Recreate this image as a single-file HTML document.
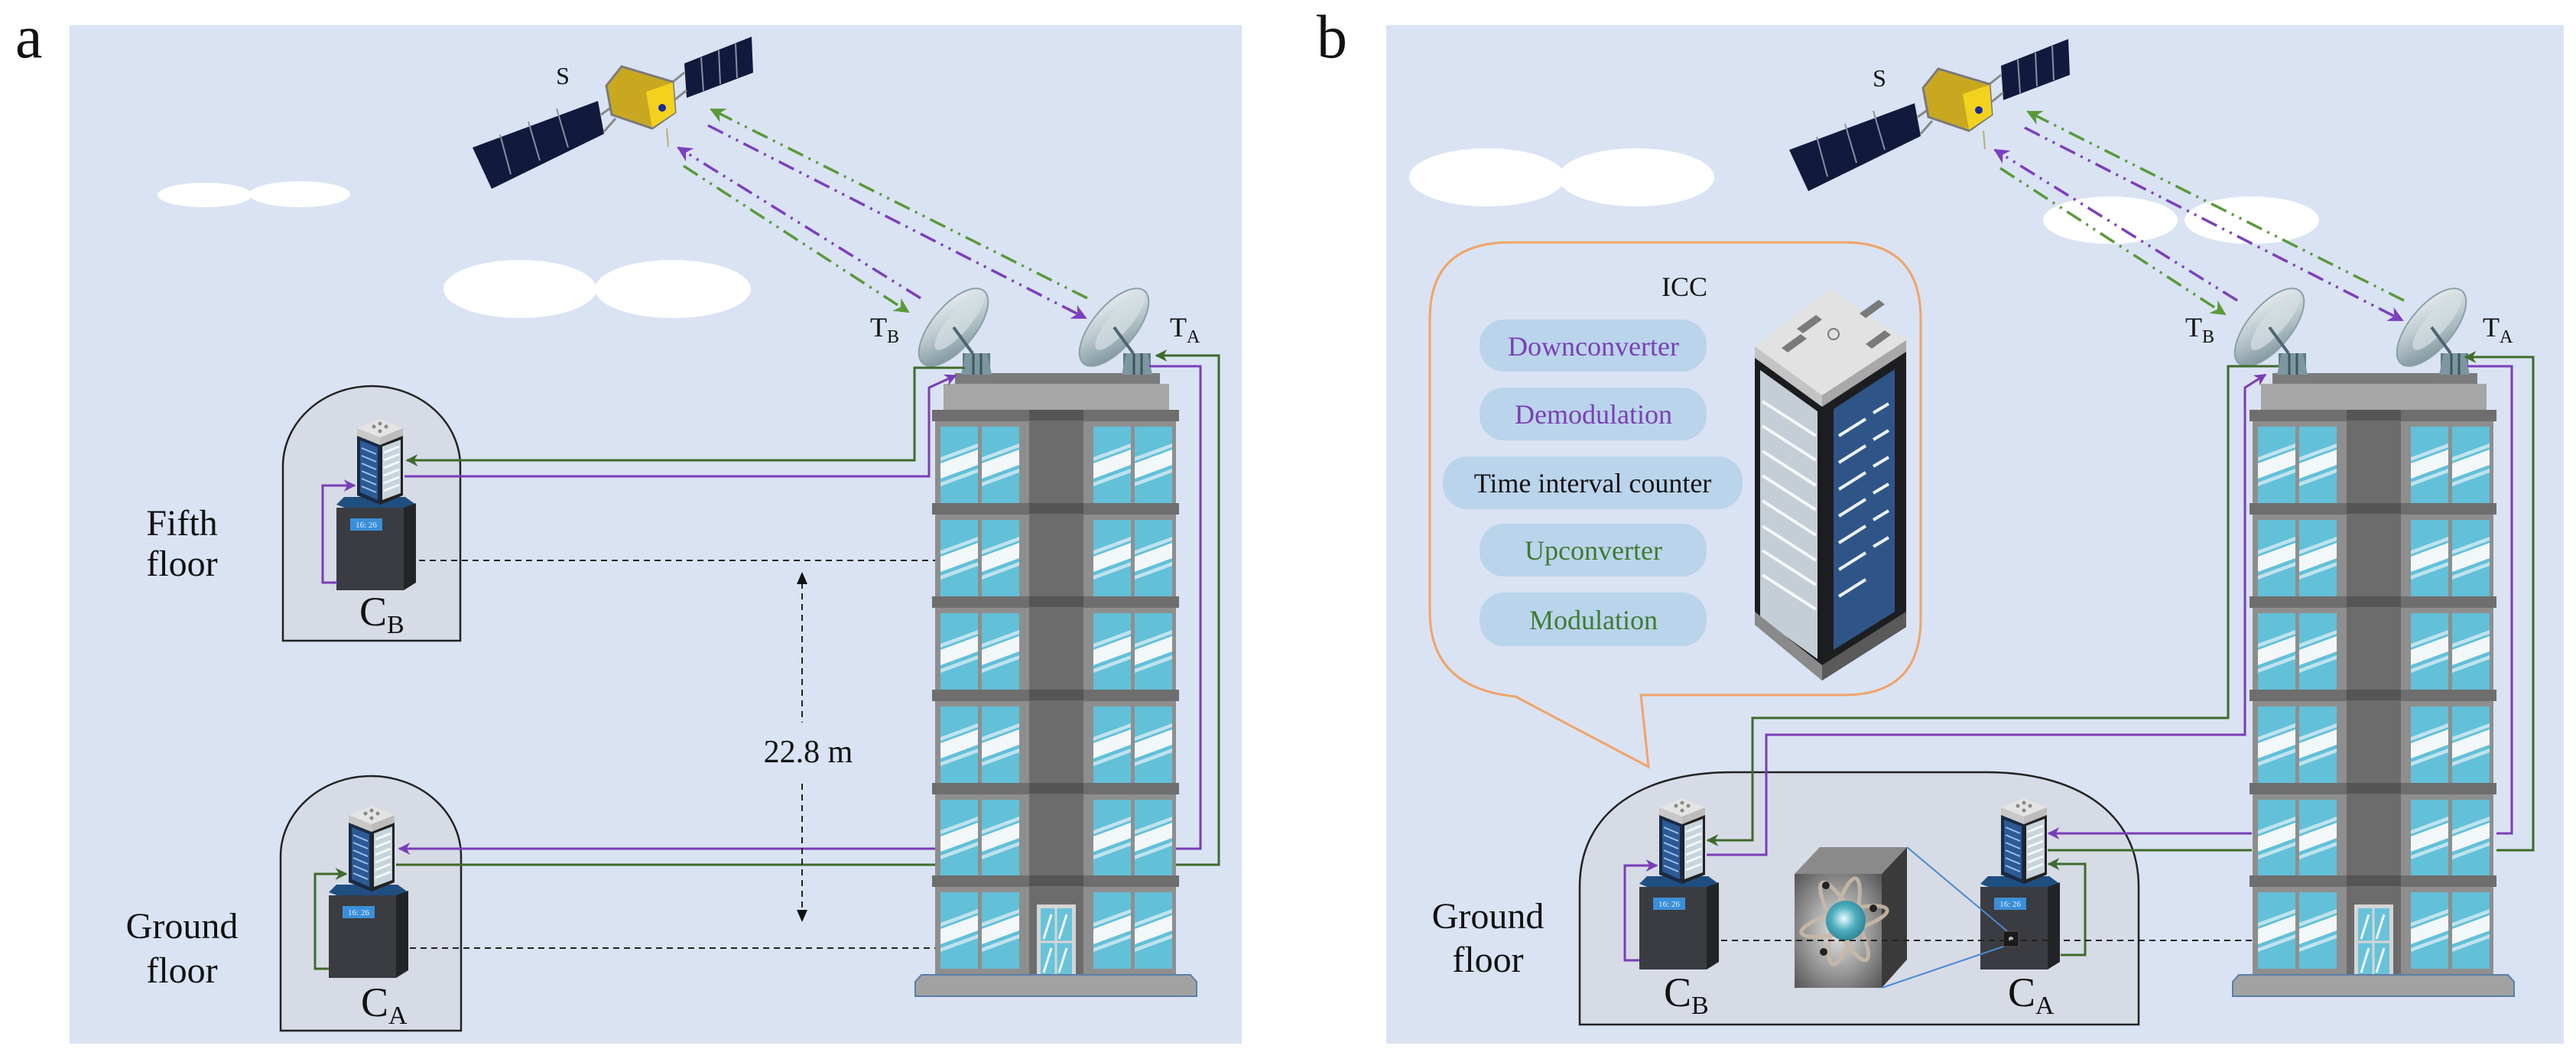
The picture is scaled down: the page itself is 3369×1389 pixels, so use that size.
<!DOCTYPE html>
<html><head><meta charset="utf-8"><style>
html,body{margin:0;padding:0;background:#fff;}
svg{display:block;font-family:"Liberation Serif","Times New Roman",serif;}
svg text{font-family:"Liberation Serif","Times New Roman",serif;}
</style></head><body>
<svg width="3369" height="1389" viewBox="0 0 3369 1389" xmlns="http://www.w3.org/2000/svg" font-family="Liberation Serif, Times New Roman, serif">
<defs>
<marker id="ap" viewBox="0 0 10 10" refX="9" refY="5" markerWidth="16" markerHeight="16" markerUnits="userSpaceOnUse" orient="auto"><path d="M0,0 L10,5 L0,10 L3,5 Z" fill="#7a3db8"/></marker>
<marker id="ag" viewBox="0 0 10 10" refX="9" refY="5" markerWidth="16" markerHeight="16" markerUnits="userSpaceOnUse" orient="auto"><path d="M0,0 L10,5 L0,10 L3,5 Z" fill="#3f6b2b"/></marker>
<marker id="ap2" viewBox="0 0 10 10" refX="9" refY="5" markerWidth="20" markerHeight="20" markerUnits="userSpaceOnUse" orient="auto"><path d="M0,0 L10,5 L0,10 L3,5 Z" fill="#7b3fbf"/></marker>
<marker id="ag2" viewBox="0 0 10 10" refX="9" refY="5" markerWidth="20" markerHeight="20" markerUnits="userSpaceOnUse" orient="auto"><path d="M0,0 L10,5 L0,10 L3,5 Z" fill="#5a9a3a"/></marker>
<linearGradient id="dishg" x1="0" y1="0" x2="1" y2="1"><stop offset="0" stop-color="#f4f7f8"/><stop offset="0.5" stop-color="#b9c7cc"/><stop offset="1" stop-color="#6d8690"/></linearGradient>
<radialGradient id="cubeg" cx="0.5" cy="0.5" r="0.7"><stop offset="0" stop-color="#e6e6e6"/><stop offset="1" stop-color="#555"/></radialGradient>
<radialGradient id="nuc" cx="0.45" cy="0.45" r="0.6"><stop offset="0" stop-color="#e9fbff"/><stop offset="0.5" stop-color="#4fb0c0"/><stop offset="1" stop-color="#2a7f8f"/></radialGradient>

<g id="win">
<rect x="0" y="0" width="49" height="100" fill="#62c0d8"/>
<polygon points="0,48 49,30 49,50 0,68" fill="#f2f7f9"/>
<polygon points="0,40 49,22 49,27 0,45" fill="#bfe3ee"/>
<polygon points="0,73 49,55 49,60 0,78" fill="#bfe3ee"/>
</g>
<g id="floor">
<rect x="0" y="0" width="323" height="15" fill="#6e6e6e"/>
<rect x="127" y="0" width="71" height="14" fill="#555"/>
<use href="#win" x="11" y="22"/><use href="#win" x="65" y="22"/>
<use href="#win" x="211" y="22"/><use href="#win" x="265" y="22"/>
</g>
<g id="bldg">
<rect x="30" y="488" width="268" height="15" fill="#7b7b7b"/>
<rect x="15" y="502" width="295" height="34" fill="#a6a6a6"/>
<rect x="4" y="536" width="315" height="740" fill="#8e8e8e"/>
<rect x="127" y="536" width="71" height="740" fill="#6c6c6c"/>
<use href="#floor" y="536"/><use href="#floor" y="658"/><use href="#floor" y="780"/>
<use href="#floor" y="902"/><use href="#floor" y="1024"/>
<rect x="0" y="1145" width="323" height="15" fill="#6e6e6e"/>
<rect x="127" y="1145" width="71" height="14" fill="#555"/>
<use href="#win" x="11" y="1167"/><use href="#win" x="65" y="1167"/>
<use href="#win" x="211" y="1167"/><use href="#win" x="265" y="1167"/>
<rect x="137" y="1183" width="51" height="93" fill="#d5d5d5"/>
<rect x="142" y="1188" width="41" height="88" fill="#68c3da"/>
<line x1="162" y1="1188" x2="162" y2="1276" stroke="#d5d5d5" stroke-width="3"/>
<line x1="142" y1="1232" x2="183" y2="1232" stroke="#d5d5d5" stroke-width="3"/>
<path d="M146,1228 L156,1196 M166,1228 L176,1196 M146,1272 L156,1240 M166,1272 L176,1240" stroke="#f2f7f9" stroke-width="3"/>
<polygon points="-22,1284 -14,1275 338,1275 346,1284 346,1303 -22,1303" fill="#a2a2a2" stroke="#5b7ea8" stroke-width="2"/>
</g>
<g id="dish">
<rect x="-18" y="-28" width="36" height="28" fill="#5f7a86"/>
<polygon points="-14,-28 14,-28 20,0 -20,0" fill="#7c97a2"/>
<line x1="-4" y1="-28" x2="-4" y2="0" stroke="#3e5560" stroke-width="3"/>
<line x1="6" y1="-28" x2="6" y2="0" stroke="#3e5560" stroke-width="3"/>
<ellipse cx="-30" cy="-62" rx="28" ry="62" transform="rotate(40 -30 -62)" fill="url(#dishg)" stroke="#8aa0a8" stroke-width="2"/>
<ellipse cx="-22" cy="-70" rx="14" ry="48" transform="rotate(40 -22 -70)" fill="#d6e0e4" opacity="0.7"/>
<line x1="-30" y1="-62" x2="-5" y2="-28" stroke="#4e6570" stroke-width="4"/>
</g>
<g id="tower">
<polygon points="30,0 60,12 30,24 0,12" fill="#e4e4e4"/>
<polygon points="0,12 30,24 30,34 0,22" fill="#c8c8c8"/>
<polygon points="30,24 60,12 60,22 30,34" fill="#bdbdbd"/>
<circle cx="22" cy="10" r="2.5" fill="#888"/><circle cx="38" cy="10" r="2.5" fill="#888"/><circle cx="30" cy="16" r="2.5" fill="#888"/><circle cx="30" cy="6" r="2.5" fill="#888"/>
<polygon points="0,22 30,34 30,112 0,100" fill="#1a2a44"/>
<polygon points="4,28 27,37 27,106 4,96" fill="#2c5a94"/>
<polygon points="30,34 60,22 60,100 30,112" fill="#222"/>
<polygon points="33,36 57,27 57,97 33,106" fill="#c8d4dc"/>
<path d="M6,38 L25,46 M6,48 L25,56 M6,58 L25,66 M6,68 L25,76 M6,78 L25,86 M6,88 L25,96" stroke="#9cc2ea" stroke-width="2"/>
<path d="M35,44 L55,36 M35,54 L55,46 M35,64 L55,56 M35,74 L55,66 M35,84 L55,76 M35,94 L55,86" stroke="#f4f8fa" stroke-width="3"/>
</g>
<g id="clock">
<polygon points="0,10 10,0 90,0 104,10 88,16 16,16" fill="#1f4e80"/>
<rect x="0" y="14" width="88" height="108" fill="#3a3c41"/>
<polygon points="88,14 104,8 104,112 88,122" fill="#232427"/>
<rect x="18" y="28" width="42" height="16" fill="#3b8fd9"/>
<text x="39" y="40" font-size="11" fill="#e6f2ff" text-anchor="middle">16: 26</text>
</g>
</defs>

<rect x="91" y="33" width="1533" height="1332" fill="#dae3f3"/>
<rect x="1813" y="33" width="1540" height="1332" fill="#dae3f3"/>
<text x="20" y="75" font-size="80" fill="#111">a</text>
<text x="1722" y="75" font-size="80" fill="#111">b</text>

<g fill="#fff">
<ellipse cx="268" cy="255" rx="62" ry="16"/><ellipse cx="392" cy="254" rx="66" ry="17"/>
<ellipse cx="680" cy="378" rx="100" ry="38"/><ellipse cx="880" cy="378" rx="102" ry="38"/>
<ellipse cx="1945" cy="232" rx="102" ry="38"/><ellipse cx="2140" cy="232" rx="102" ry="38"/>
<ellipse cx="2760" cy="288" rx="88" ry="31"/><ellipse cx="2945" cy="288" rx="88" ry="31"/>
</g>

<g id="satlinks">
<polygon points="618,193 643,247 790,175 782,132" fill="#111a3d"/>
<path d="M654,176 L668,228 M691,159 L706,210 M728,142 L743,193" stroke="#8a8fa0" stroke-width="2"/>
<polygon points="895,83 898,128 985,95 983,48" fill="#111a3d"/>
<path d="M917,75 L920,119 M940,66 L942,110 M962,57 L964,102" stroke="#8a8fa0" stroke-width="2"/>
<path d="M786,150 L800,140 M790,172 L805,155 M880,107 L895,95 M883,130 L898,118" stroke="#888" stroke-width="3"/>
<polygon points="793,112 813,87 880,107 883,147 853,168 800,150" fill="#c9a820" stroke="#7a7a7a" stroke-width="3"/>
<polygon points="845,120 880,108 883,147 853,167" fill="#f2d21e"/>
<circle cx="866" cy="141" r="5" fill="#1a2a9a"/>
<line x1="872" y1="168" x2="874" y2="192" stroke="#b9b070" stroke-width="2"/>
<text x="736" y="110" font-size="32" text-anchor="middle" fill="#111">S</text>
<g fill="none" stroke-width="3.5" stroke-dasharray="22 8 3 8 3 8">
<path d="M894,217 L1188,408" stroke="#5a9a3a" marker-end="url(#ag2)"/>
<path d="M1204,390 L887,193" stroke="#7b3fbf" marker-end="url(#ap2)"/>
<path d="M926,164 L1420,416" stroke="#7b3fbf" marker-end="url(#ap2)"/>
<path d="M1422,390 L930,143" stroke="#5a9a3a" marker-end="url(#ag2)"/>
</g>
</g>
<use href="#satlinks" transform="translate(1722,3)"/>

<use href="#bldg" transform="translate(1219,0)"/>
<use href="#bldg" transform="translate(2942,0)"/>

<use href="#dish" transform="translate(1277,490)"/>
<use href="#dish" transform="translate(1487,490)"/>
<use href="#dish" transform="translate(2998,490)"/>
<use href="#dish" transform="translate(3210,490)"/>
<g fill="#111">
<text x="1138" y="440" font-size="36">T<tspan font-size="24" dy="8">B</tspan></text>
<text x="1530" y="440" font-size="36">T<tspan font-size="24" dy="8">A</tspan></text>
<text x="2858" y="440" font-size="36">T<tspan font-size="24" dy="8">B</tspan></text>
<text x="3247" y="440" font-size="36">T<tspan font-size="24" dy="8">A</tspan></text>
</g>

<path d="M370,838 V610 A116,105 0 0 1 602,610 V838 Z" fill="#d6dbe6" stroke="#222" stroke-width="2.5"/>
<path d="M367,1348 V1120 A118,105 0 0 1 603,1120 V1348 Z" fill="#d6dbe6" stroke="#222" stroke-width="2.5"/>
<use href="#clock" transform="translate(440,650)"/>
<use href="#tower" transform="translate(467,548)"/>
<use href="#clock" transform="translate(430,1157)"/>
<use href="#tower" transform="translate(456,1054)"/>

<text x="238" y="700" font-size="48" text-anchor="middle" fill="#111">Fifth</text>
<text x="238" y="753" font-size="48" text-anchor="middle" fill="#111">floor</text>
<text x="238" y="1227" font-size="48" text-anchor="middle" fill="#111">Ground</text>
<text x="238" y="1285" font-size="48" text-anchor="middle" fill="#111">floor</text>
<text x="470" y="818" font-size="54" fill="#111">C<tspan font-size="34" dy="10">B</tspan></text>
<text x="472" y="1329" font-size="54" fill="#111">C<tspan font-size="34" dy="10">A</tspan></text>

<g fill="none" stroke-width="3">
<path d="M1262,481 H1196 V602 H532" stroke="#3f6b2b" marker-end="url(#ag)"/>
<path d="M529,623 H1215 V507 L1250,491" stroke="#7a3db8" marker-end="url(#ap)"/>
<path d="M441,762 H422 V635 H464" stroke="#7a3db8" marker-end="url(#ap)"/>
<path d="M1503,479 H1570 V1110 H1538" stroke="#7a3db8"/>
<path d="M1223,1110 H522" stroke="#7a3db8" marker-end="url(#ap)"/>
<path d="M1538,1131 H1594 V465 H1512" stroke="#3f6b2b" marker-end="url(#ag)"/>
<path d="M1223,1131 H518" stroke="#3f6b2b"/>
<path d="M430,1267 H412 V1143 H453" stroke="#3f6b2b" marker-end="url(#ag)"/>
</g>
<g fill="none" stroke="#222" stroke-width="2" stroke-dasharray="8 6">
<path d="M548,733 H1223"/><path d="M536,1240 H1223"/>
<path d="M1049,762 V945"/>
<path d="M1049,1025 V1192"/>
</g>
<path d="M1049,748 L1042,764 L1056,764 Z" fill="#111"/>
<path d="M1049,1206 L1042,1190 L1056,1190 Z" fill="#111"/>
<text x="1057" y="997" font-size="42" text-anchor="middle" fill="#111">22.8 m</text>

<path d="M1975,317 H2412 Q2512,317 2512,417 V809 Q2512,909 2412,909 H2146 L2156,1003 L1982,911 Q1870,900 1870,800 V417 Q1870,317 1975,317 Z" fill="none" stroke="#f0a468" stroke-width="3"/>
<text x="2203" y="387" font-size="36" text-anchor="middle" fill="#111">ICC</text>
<g fill="#bad4ec">
<rect x="1935" y="418" width="297" height="68" rx="32"/>
<rect x="1935" y="507" width="297" height="69" rx="32"/>
<rect x="1887" y="597" width="392" height="69" rx="32"/>
<rect x="1935" y="685" width="297" height="69" rx="32"/>
<rect x="1935" y="775" width="297" height="70" rx="32"/>
</g>
<g font-size="36" text-anchor="middle">
<text x="2084" y="465" fill="#7a3fb5">Downconverter</text>
<text x="2084" y="554" fill="#7a3fb5">Demodulation</text>
<text x="2083" y="644" fill="#111">Time interval counter</text>
<text x="2084" y="732" fill="#3f7a30">Upconverter</text>
<text x="2084" y="823" fill="#3f7a30">Modulation</text>
</g>
<polygon points="2295,453 2393,377 2493,445 2383,517" fill="#e2e2e2"/>
<polygon points="2295,453 2383,517 2383,532 2295,468" fill="#c4c4c4"/>
<polygon points="2383,517 2493,445 2493,460 2383,532" fill="#a8a8a8"/>
<polygon points="2350,430 2375,412 2383,418 2358,436" fill="#7a7a7a"/>
<polygon points="2432,410 2457,392 2465,398 2440,416" fill="#7a7a7a"/>
<polygon points="2330,455 2355,437 2363,443 2338,461" fill="#7a7a7a"/>
<polygon points="2440,450 2465,432 2473,438 2448,456" fill="#7a7a7a"/>
<circle cx="2398" cy="437" r="7" fill="none" stroke="#777" stroke-width="2"/>
<polygon points="2295,468 2383,532 2383,890 2295,817" fill="#1b1c20"/>
<polygon points="2302,484 2377,538 2377,862 2302,808" fill="#c5ced6"/>
<path d="M2305,525 L2375,570 M2305,557 L2375,602 M2305,590 L2375,635 M2305,622 L2375,667 M2305,655 L2375,700 M2305,688 L2375,733 M2305,720 L2375,765 M2305,752 L2375,797" stroke="#f6f8fa" stroke-width="4"/>
<polygon points="2383,532 2493,460 2493,820 2383,890" fill="#1d1e22"/>
<polygon points="2398,535 2478,483 2478,800 2398,850" fill="#2f5588"/>
<path d="M2405,570 L2440,548 M2405,605 L2440,583 M2405,640 L2440,618 M2405,675 L2440,653 M2405,710 L2440,688 M2405,745 L2440,723 M2405,780 L2440,758 M2450,540 L2470,528 M2450,575 L2470,563 M2450,610 L2470,598 M2450,645 L2470,633 M2450,680 L2470,668 M2450,715 L2470,703" stroke="#eef3fa" stroke-width="4"/>
<polygon points="2295,817 2383,890 2383,870 2295,800" fill="#8a8a8a"/>
<polygon points="2383,890 2493,820 2493,800 2383,870" fill="#5a5a5a"/>

<path d="M2066,1340 V1160 C2066,1060 2150,1010 2265,1010 H2598 C2712,1010 2797,1060 2797,1160 V1340 Z" fill="#d6dbe6" stroke="#222" stroke-width="2.5"/>
<text x="1946" y="1214" font-size="48" text-anchor="middle" fill="#111">Ground</text>
<text x="1946" y="1271" font-size="48" text-anchor="middle" fill="#111">floor</text>
<use href="#clock" transform="translate(2144,1146)"/>
<use href="#tower" transform="translate(2170,1044)"/>
<use href="#clock" transform="translate(2590,1146)"/>
<use href="#tower" transform="translate(2617,1044)"/>
<text x="2176" y="1316" font-size="54" fill="#111">C<tspan font-size="34" dy="10">B</tspan></text>
<text x="2626" y="1316" font-size="54" fill="#111">C<tspan font-size="34" dy="10">A</tspan></text>
<polygon points="2347,1143 2380,1108 2494,1108 2461,1143" fill="#8a8a8a"/>
<polygon points="2461,1143 2494,1108 2494,1255 2461,1292" fill="#3a3a3a"/>
<rect x="2347" y="1143" width="114" height="149" fill="url(#cubeg)"/>
<g fill="none" stroke="#c9b9a8" stroke-width="5" opacity="0.9">
<ellipse cx="2412" cy="1205" rx="58" ry="14" transform="rotate(-15 2412 1205)"/>
<ellipse cx="2412" cy="1205" rx="58" ry="14" transform="rotate(60 2412 1205)"/>
<ellipse cx="2412" cy="1205" rx="58" ry="14" transform="rotate(-75 2412 1205)"/>
</g>
<circle cx="2405" cy="1200" r="10" fill="#c8704a"/>
<circle cx="2420" cy="1212" r="10" fill="#c8704a"/>
<circle cx="2414" cy="1204" r="26" fill="url(#nuc)"/>
<circle cx="2388" cy="1158" r="5" fill="#222"/><circle cx="2450" cy="1188" r="5" fill="#222"/><circle cx="2385" cy="1245" r="5" fill="#222"/>
<path d="M2494,1108 L2630,1222 M2461,1292 L2626,1236" stroke="#4a8ad0" stroke-width="2"/>
<rect x="2620" y="1218" width="20" height="20" fill="#1a1a1a" stroke="#555"/>
<circle cx="2630" cy="1228" r="3" fill="#bbb"/>

<g fill="none" stroke-width="3">
<path d="M2980,479 H2914 V939 H2292 V1099 H2233" stroke="#3f6b2b" marker-end="url(#ag)"/>
<path d="M2232,1118 H2310 V961 H2936 V507 L2963,490" stroke="#7a3db8" marker-end="url(#ap)"/>
<path d="M2144,1256 H2125 V1132 H2167" stroke="#7a3db8" marker-end="url(#ap)"/>
<path d="M3227,479 H3285 V1090 H3265" stroke="#7a3db8"/>
<path d="M2945,1090 H2679" stroke="#7a3db8" marker-end="url(#ap)"/>
<path d="M3265,1112 H3313 V467 H3224" stroke="#3f6b2b" marker-end="url(#ag)"/>
<path d="M2945,1112 H2678" stroke="#3f6b2b"/>
<path d="M2695,1249 H2727 V1130 H2679" stroke="#3f6b2b" marker-end="url(#ag)"/>
</g>
<path d="M2251,1230 H2945" fill="none" stroke="#222" stroke-width="2" stroke-dasharray="8 6"/>
</svg>
</body></html>
